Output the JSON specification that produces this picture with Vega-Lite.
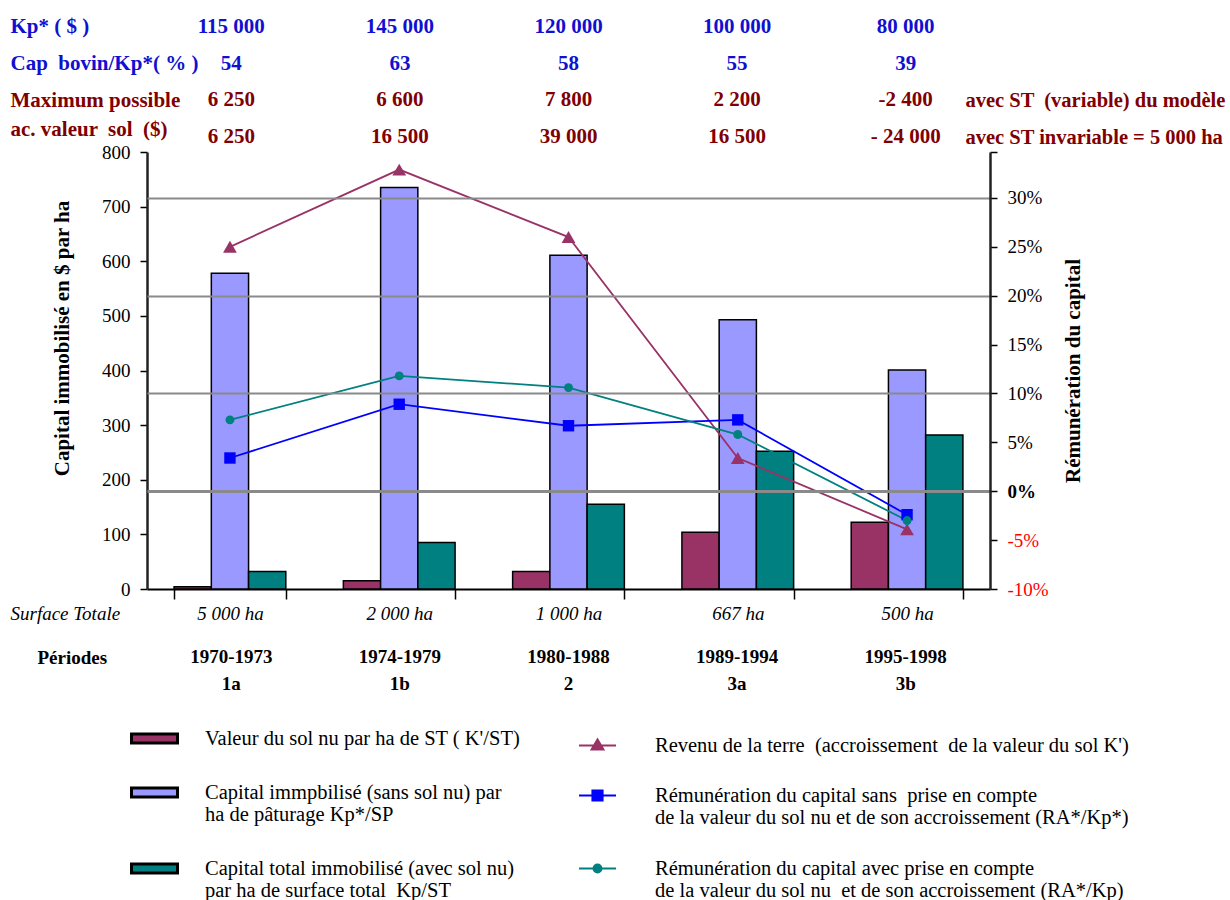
{
  "$schema": "https://vega.github.io/schema/vega-lite/v6.json",
  "padding": {"left": 10, "top": 10, "right": 0, "bottom": 0},
  "bounds": "flush",
  "spacing": 15,
  "config": {
    "view": {"stroke": null},
    "font": "Liberation Serif",
    "axis": {"grid": false, "labelFont": "Liberation Serif", "titleFont": "Liberation Serif", "labelColor": "black", "titleColor": "black"},
    "legend": {"labelFont": "Liberation Serif", "labelColor": "black"}
  },
  "datasets": {
    "tableau": [
      {"periode": "1970-1973", "ligne": "r1", "texte": "115 000"},
      {"periode": "1974-1979", "ligne": "r1", "texte": "145 000"},
      {"periode": "1980-1988", "ligne": "r1", "texte": "120 000"},
      {"periode": "1989-1994", "ligne": "r1", "texte": "100 000"},
      {"periode": "1995-1998", "ligne": "r1", "texte": "80 000"},
      {"periode": "1970-1973", "ligne": "r2", "texte": "54"},
      {"periode": "1974-1979", "ligne": "r2", "texte": "63"},
      {"periode": "1980-1988", "ligne": "r2", "texte": "58"},
      {"periode": "1989-1994", "ligne": "r2", "texte": "55"},
      {"periode": "1995-1998", "ligne": "r2", "texte": "39"},
      {"periode": "1970-1973", "ligne": "r3", "texte": "6 250"},
      {"periode": "1974-1979", "ligne": "r3", "texte": "6 600"},
      {"periode": "1980-1988", "ligne": "r3", "texte": "7 800"},
      {"periode": "1989-1994", "ligne": "r3", "texte": "2 200"},
      {"periode": "1995-1998", "ligne": "r3", "texte": "-2 400"},
      {"periode": "1970-1973", "ligne": "r4", "texte": "6 250"},
      {"periode": "1974-1979", "ligne": "r4", "texte": "16 500"},
      {"periode": "1980-1988", "ligne": "r4", "texte": "39 000"},
      {"periode": "1989-1994", "ligne": "r4", "texte": "16 500"},
      {"periode": "1995-1998", "ligne": "r4", "texte": "- 24 000"}
    ],
    "barres": [
      {"surface": "5 000 ha", "serie": "sol", "valeur": 4},
      {"surface": "5 000 ha", "serie": "kpsp", "valeur": 578},
      {"surface": "5 000 ha", "serie": "kpst", "valeur": 32},
      {"surface": "2 000 ha", "serie": "sol", "valeur": 15},
      {"surface": "2 000 ha", "serie": "kpsp", "valeur": 735},
      {"surface": "2 000 ha", "serie": "kpst", "valeur": 85},
      {"surface": "1 000 ha", "serie": "sol", "valeur": 32},
      {"surface": "1 000 ha", "serie": "kpsp", "valeur": 611},
      {"surface": "1 000 ha", "serie": "kpst", "valeur": 155},
      {"surface": "667 ha", "serie": "sol", "valeur": 104},
      {"surface": "667 ha", "serie": "kpsp", "valeur": 493},
      {"surface": "667 ha", "serie": "kpst", "valeur": 252},
      {"surface": "500 ha", "serie": "sol", "valeur": 122},
      {"surface": "500 ha", "serie": "kpsp", "valeur": 401},
      {"surface": "500 ha", "serie": "kpst", "valeur": 282}
    ],
    "lignes": [
      {"surface": "5 000 ha", "serie": "terre", "pct": 25.0},
      {"surface": "2 000 ha", "serie": "terre", "pct": 32.9},
      {"surface": "1 000 ha", "serie": "terre", "pct": 26.0},
      {"surface": "667 ha", "serie": "terre", "pct": 3.4},
      {"surface": "500 ha", "serie": "terre", "pct": -3.9},
      {"surface": "5 000 ha", "serie": "sans", "pct": 3.4},
      {"surface": "2 000 ha", "serie": "sans", "pct": 8.9},
      {"surface": "1 000 ha", "serie": "sans", "pct": 6.7},
      {"surface": "667 ha", "serie": "sans", "pct": 7.3},
      {"surface": "500 ha", "serie": "sans", "pct": -2.4},
      {"surface": "5 000 ha", "serie": "avec", "pct": 7.3},
      {"surface": "2 000 ha", "serie": "avec", "pct": 11.8},
      {"surface": "1 000 ha", "serie": "avec", "pct": 10.6},
      {"surface": "667 ha", "serie": "avec", "pct": 5.8},
      {"surface": "500 ha", "serie": "avec", "pct": -3.0}
    ],
    "periodes": [
      {"periode": "1970-1973", "ligne": "p", "texte": "1970-1973"},
      {"periode": "1974-1979", "ligne": "p", "texte": "1974-1979"},
      {"periode": "1980-1988", "ligne": "p", "texte": "1980-1988"},
      {"periode": "1989-1994", "ligne": "p", "texte": "1989-1994"},
      {"periode": "1995-1998", "ligne": "p", "texte": "1995-1998"},
      {"periode": "1970-1973", "ligne": "c", "texte": "1a"},
      {"periode": "1974-1979", "ligne": "c", "texte": "1b"},
      {"periode": "1980-1988", "ligne": "c", "texte": "2"},
      {"periode": "1989-1994", "ligne": "c", "texte": "3a"},
      {"periode": "1995-1998", "ligne": "c", "texte": "3b"}
    ]
  },
  "vconcat": [
    {
      "width": 843,
      "height": 127,
      "data": {"name": "tableau"},
      "layer": [
        {
          "mark": {"type": "text", "font": "Liberation Serif", "fontSize": 21, "fontWeight": "bold", "baseline": "middle"},
          "encoding": {
            "x": {"field": "periode", "type": "nominal", "sort": null, "scale": {"paddingInner": 0.34, "paddingOuter": 0.17}, "axis": null},
            "y": {"field": "ligne", "type": "nominal", "scale": {"type": "point", "domain": ["r1", "r2", "r3", "r4"], "padding": 0.23, "align": 1},
              "axis": {"orient": "left", "title": null, "domain": false, "ticks": false, "tickSize": 0, "labelAlign": "left", "labelBaseline": "middle", "labelPadding": 137, "labelFontSize": 21, "labelFontWeight": "bold", "labelLimit": 0,
                "labelColor": {"condition": {"test": "datum.value === 'r1' || datum.value === 'r2'", "value": "#1010d0"}, "value": "#7f0000"},
                "labelOffset": {"condition": {"test": "datum.value === 'r4'", "value": -8}, "value": 0},
                "labelExpr": "datum.value === 'r1' ? 'Kp* ( $ )' : datum.value === 'r2' ? 'Cap \u00a0bovin/Kp*( % )' : datum.value === 'r3' ? 'Maximum possible' : 'ac. valeur \u00a0sol \u00a0($)'"}},
            "text": {"field": "texte"},
            "color": {"condition": {"test": "datum.ligne === 'r1' || datum.ligne === 'r2'", "value": "#1010d0"}, "value": "#7f0000"}
          }
        },
        {
          "mark": {"type": "text", "text": ""},
          "encoding": {
            "x": {"field": "periode", "type": "nominal", "sort": null, "axis": null},
            "y": {"field": "ligne", "type": "nominal",
              "axis": {"orient": "right", "title": null, "domain": false, "ticks": false, "tickSize": 0, "labelAlign": "left", "labelBaseline": "middle", "labelPadding": -25, "labelFontSize": 20.5, "labelFontWeight": "bold", "labelLimit": 0, "labelColor": "#7f0000",
                "labelExpr": "datum.value === 'r3' ? 'avec ST \u00a0(variable) du modèle' : datum.value === 'r4' ? 'avec ST invariable = 5 000 ha' : ''"}}
          }
        }
      ],
      "resolve": {"axis": {"y": "independent"}}
    },
    {
      "width": 843,
      "height": 437,
      "layer": [
        {
          "data": {"name": "barres"},
          "mark": {"type": "bar", "stroke": "black", "strokeWidth": 1.5},
          "encoding": {
            "x": {"field": "surface", "type": "nominal", "sort": null, "scale": {"paddingInner": 0.34, "paddingOuter": 0.16},
              "axis": {"title": "Surface Totale", "titleFontStyle": "italic", "titleFontWeight": "normal", "titleFontSize": 19, "titleAlign": "left", "titleBaseline": "top", "titleX": -137, "titleY": 15,
                "labelFontStyle": "italic", "labelFontSize": 19, "labelAngle": 0, "labelPadding": 5, "labelBaseline": "top", "tickBand": "extent", "tickSize": 10, "tickColor": "black", "tickWidth": 1.5, "domainColor": "black", "domainWidth": 2}},
            "xOffset": {"field": "serie", "type": "nominal", "scale": {"domain": ["sol", "kpsp", "kpst"], "paddingInner": 0, "paddingOuter": 0}},
            "y": {"field": "valeur", "type": "quantitative", "scale": {"domain": [0, 800], "nice": false},
              "axis": {"orient": "left", "title": "Capital immobilisé en $ par ha", "titleFontSize": 21, "titleFontWeight": "bold", "titlePadding": 29, "titleY": 186,
                "values": [0, 100, 200, 300, 400, 500, 600, 700, 800], "labelFontSize": 19, "labelPadding": 10, "tickSize": 7, "tickColor": "black", "tickWidth": 1.5, "domainColor": "#222", "domainWidth": 2.5}},
            "fill": {"field": "serie", "type": "nominal", "scale": {"domain": ["sol", "kpsp", "kpst"], "range": ["#993366", "#9999ff", "#008080"]},
              "legend": {"orient": "none", "legendX": -17, "legendY": 704, "title": null, "padding": 0, "symbolType": "M-1,-0.2H1V0.2H-1Z", "symbolSize": 2116, "symbolStrokeColor": "black", "symbolStrokeWidth": 3, "labelFontSize": 20.5, "labelOffset": 26, "labelLimit": 0, "rowPadding": 18,
                "labelExpr": "datum.value === 'sol' ? \"Valeur du sol nu par ha de ST ( K'/ST)\" : datum.value === 'kpsp' ? ['Capital immpbilisé (sans sol nu) par', 'ha de pâturage Kp*/SP'] : ['Capital total immobilisé (avec sol nu)', 'par ha de surface total \u00a0Kp/ST']"}}
          }
        },
        {
          "data": {"name": "lignes"},
          "layer": [
            {
              "mark": {"type": "line", "strokeWidth": 1.8},
              "encoding": {
                "x": {"field": "surface", "type": "nominal", "sort": null, "title": "Surface Totale"},
                "y": {"field": "pct", "type": "quantitative", "scale": {"domain": [-10, 34.7], "nice": false, "zero": false},
                  "axis": {"orient": "right", "title": "Rémunération du capital", "titleFontSize": 21, "titleFontWeight": "bold", "titleAngle": 270, "titleBaseline": "top", "titlePadding": 14, "zindex": 1,
                    "values": [-10, -5, 0, 5, 10, 15, 20, 25, 30, 34.7], "labelExpr": "datum.value > 31 ? '' : datum.value + '%'", "labelFontSize": 19, "labelPadding": 10, "tickSize": 7, "tickColor": "black", "tickWidth": 1.5, "domainColor": "#222", "domainWidth": 2.5,
                    "labelColor": {"condition": {"test": "datum.value < 0", "value": "#ff0000"}, "value": "black"},
                    "labelFontWeight": {"condition": {"test": "datum.value === 0", "value": "bold"}, "value": "normal"},
                    "grid": true,
                    "gridColor": {"condition": {"test": "datum.value >= 0 && datum.value % 10 === 0", "value": "#8a8a8a"}, "value": "transparent"},
                    "gridWidth": {"condition": {"test": "datum.value === 0", "value": 3}, "value": 1.8}}},
                "stroke": {"field": "serie", "type": "nominal", "scale": {"domain": ["terre", "sans", "avec"], "range": ["#993366", "#0000ff", "#008080"]},
                  "legend": {"orient": "none", "legendX": 431, "legendY": 716, "title": null, "padding": 0, "symbolSize": 1369, "symbolStrokeWidth": 1.8, "labelFontSize": 20.5, "labelOffset": 38, "labelLimit": 0, "rowPadding": 20,
                    "labelExpr": "datum.value === 'terre' ? \"Revenu de la terre \u00a0(accroissement \u00a0de la valeur du sol K')\" : datum.value === 'sans' ? ['Rémunération du capital sans \u00a0prise en compte', 'de la valeur du sol nu et de son accroissement (RA*/Kp*)'] : ['Rémunération du capital avec prise en compte', 'de la valeur du sol nu \u00a0et de son accroissement (RA*/Kp)']",
                    "encode": {"symbols": {"update": {
                      "shape": {"signal": "datum.value === 'terre' ? 'M-1,0H1M0,-0.34L0.33,0.22L-0.33,0.22Z' : datum.value === 'sans' ? 'M-1,0H1M-0.28,-0.28H0.28V0.28H-0.28Z' : 'M-1,0H1M0.22,0A0.22,0.22,0,1,1,-0.22,0A0.22,0.22,0,1,1,0.22,0Z'"},
                      "fill": {"signal": "datum.value === 'terre' ? '#993366' : datum.value === 'sans' ? '#0000ff' : '#008080'"},
                      "stroke": {"signal": "datum.value === 'terre' ? '#993366' : datum.value === 'sans' ? '#0000ff' : '#008080'"}}}}}}
              }
            },
            {
              "transform": [{"filter": "datum.serie === 'terre'"}],
              "mark": {"type": "point", "shape": "triangle-up", "filled": true, "opacity": 1, "color": "#993366", "size": 190},
              "encoding": {
                "x": {"field": "surface", "type": "nominal", "sort": null, "title": "Surface Totale"},
                "y": {"field": "pct", "type": "quantitative", "title": "Rémunération du capital"}
              }
            },
            {
              "transform": [{"filter": "datum.serie === 'sans'"}],
              "mark": {"type": "point", "shape": "square", "filled": true, "opacity": 1, "color": "#0000ff", "size": 130},
              "encoding": {
                "x": {"field": "surface", "type": "nominal", "sort": null, "title": "Surface Totale"},
                "y": {"field": "pct", "type": "quantitative", "title": "Rémunération du capital"}
              }
            },
            {
              "transform": [{"filter": "datum.serie === 'avec'"}],
              "mark": {"type": "point", "shape": "circle", "filled": true, "opacity": 1, "color": "#008080", "size": 80},
              "encoding": {
                "x": {"field": "surface", "type": "nominal", "sort": null, "title": "Surface Totale"},
                "y": {"field": "pct", "type": "quantitative", "title": "Rémunération du capital"}
              }
            }
          ]
        }
      ],
      "resolve": {"scale": {"y": "independent"}}
    },
    {
      "width": 843,
      "height": 80,
      "data": {"name": "periodes"},
      "mark": {"type": "text", "font": "Liberation Serif", "fontSize": 19, "fontWeight": "bold", "baseline": "middle", "color": "black"},
      "encoding": {
        "x": {"field": "periode", "type": "nominal", "sort": null, "scale": {"paddingInner": 0.34, "paddingOuter": 0.17}, "axis": null},
        "y": {"field": "ligne", "type": "nominal", "scale": {"type": "point", "domain": ["p", "c"], "padding": 1.24, "align": 1},
          "axis": {"orient": "left", "title": null, "domain": false, "ticks": false, "tickSize": 0, "labelAlign": "left", "labelBaseline": "middle", "labelPadding": 110, "labelFontSize": 19, "labelFontWeight": "bold", "labelColor": "black",
            "labelExpr": "datum.value === 'p' ? 'Périodes' : ''"}},
        "text": {"field": "texte"}
      }
    }
  ]
}
